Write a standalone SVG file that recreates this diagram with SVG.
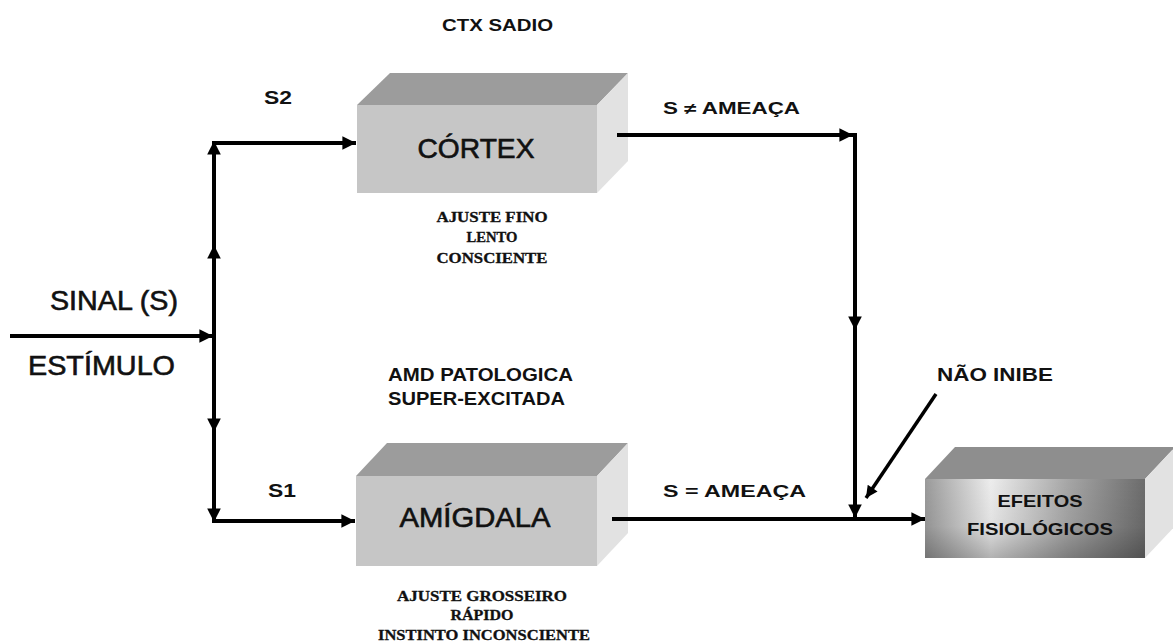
<svg xmlns="http://www.w3.org/2000/svg" width="1173" height="643" viewBox="0 0 1173 643">
  <style>
    .front { fill: #c6c6c6; }
    .top { fill: #9c9c9c; }
    .side { fill: #e2e2e2; }
    .wire { stroke: #000; stroke-width: 4; fill: none; }
    .big { font-family: "Liberation Sans", Arial, sans-serif; font-size: 27px; fill: #111; stroke: #111; stroke-width: 0.6px; }
    .lbl { font-family: "Liberation Sans", Arial, sans-serif; font-weight: bold; fill: #111; }
    .note { font-family: "Liberation Serif", "Times New Roman", serif; font-weight: bold; font-size: 14px; fill: #111; stroke: #111; stroke-width: 0.3px; }
  </style>
  <defs>
    <marker id="arrow" viewBox="0 0 10 10" refX="10" refY="5" markerWidth="4.2" markerHeight="3.4" orient="auto" markerUnits="strokeWidth">
      <path d="M0,0 L10,5 L0,10 Z" fill="#000"/>
    </marker>
    <linearGradient id="effectFace" x1="0" y1="0" x2="1" y2="0">
      <stop offset="0" stop-color="#9a9a9a"/>
      <stop offset="0.3" stop-color="#ededed"/>
      <stop offset="0.65" stop-color="#a6a6a6"/>
      <stop offset="1" stop-color="#6c6c6c"/>
    </linearGradient>
    <linearGradient id="effectShade" x1="0" y1="0" x2="0" y2="1">
      <stop offset="0" stop-color="#000" stop-opacity="0"/>
      <stop offset="0.6" stop-color="#000" stop-opacity="0.05"/>
      <stop offset="1" stop-color="#000" stop-opacity="0.25"/>
    </linearGradient>
  </defs>

  <rect width="1173" height="643" fill="#fff"/>

  <!-- top caption -->
  <text class="lbl" x="442" y="31" font-size="17" textLength="111" lengthAdjust="spacingAndGlyphs">CTX SADIO</text>

  <!-- cortex block -->
  <g id="cortex">
    <polygon class="top" points="357,105 390,73 628,73 597,105"/>
    <polygon class="side" points="597,105 628,73 628,161 597,193"/>
    <rect class="front" x="357" y="105" width="240" height="88"/>
    <text class="big" x="476" y="158" text-anchor="middle" textLength="117" lengthAdjust="spacingAndGlyphs">CÓRTEX</text>
  </g>
  <g id="cortex-notes">
    <text class="note" x="492" y="222" text-anchor="middle" textLength="111" lengthAdjust="spacingAndGlyphs">AJUSTE FINO</text>
    <text class="note" x="492" y="242" text-anchor="middle" textLength="51" lengthAdjust="spacingAndGlyphs">LENTO</text>
    <text class="note" x="492" y="263" text-anchor="middle" textLength="111" lengthAdjust="spacingAndGlyphs">CONSCIENTE</text>
  </g>

  <!-- amygdala block -->
  <g id="amigdala-caption">
    <text class="lbl" x="388" y="381" font-size="18" textLength="185" lengthAdjust="spacingAndGlyphs">AMD PATOLOGICA</text>
    <text class="lbl" x="388" y="405" font-size="18" textLength="177" lengthAdjust="spacingAndGlyphs">SUPER-EXCITADA</text>
  </g>
  <g id="amigdala">
    <polygon class="top" points="356,476 387,443 628,443 597,476"/>
    <polygon class="side" points="597,476 628,443 628,533 597,566"/>
    <rect class="front" x="356" y="476" width="241" height="90"/>
    <text class="big" x="475" y="527" font-size="28" text-anchor="middle" textLength="151" lengthAdjust="spacingAndGlyphs">AMÍGDALA</text>
  </g>
  <g id="amigdala-notes">
    <text class="note" x="482" y="601" text-anchor="middle" textLength="170" lengthAdjust="spacingAndGlyphs">AJUSTE GROSSEIRO</text>
    <text class="note" x="482" y="620" text-anchor="middle" textLength="63" lengthAdjust="spacingAndGlyphs">RÁPIDO</text>
    <text class="note" x="484" y="640" text-anchor="middle" textLength="212" lengthAdjust="spacingAndGlyphs">INSTINTO INCONSCIENTE</text>
  </g>

  <!-- physiological effects block -->
  <g id="efeitos">
    <polygon points="925,479 955,447 1175,447 1145,479" fill="#8e8e8e"/>
    <polygon class="side" points="1145,479 1175,447 1175,526 1145,558"/>
    <rect x="925" y="479" width="220" height="79" fill="url(#effectFace)"/>
    <rect x="925" y="479" width="220" height="79" fill="url(#effectShade)"/>
    <text class="lbl" x="1040" y="507" font-size="17" text-anchor="middle" textLength="85" lengthAdjust="spacingAndGlyphs">EFEITOS</text>
    <text class="lbl" x="1040" y="535" font-size="17" text-anchor="middle" textLength="146" lengthAdjust="spacingAndGlyphs">FISIOLÓGICOS</text>
  </g>

  <!-- input signal labels -->
  <g id="sinal">
    <text class="big" x="50" y="310" font-size="23" textLength="128" lengthAdjust="spacingAndGlyphs">SINAL (S)</text>
    <text class="big" x="28" y="375" font-size="23" textLength="147" lengthAdjust="spacingAndGlyphs">ESTÍMULO</text>
  </g>

  <!-- connectors -->
  <g id="connectors">
    <!-- stimulus input -->
    <line class="wire" x1="10" y1="336" x2="213" y2="336" marker-end="url(#arrow)"/>
    <!-- splitter trunk -->
    <line class="wire" x1="214" y1="336" x2="214" y2="141" marker-end="url(#arrow)"/>
    <line class="wire" x1="214" y1="336" x2="214" y2="245" marker-end="url(#arrow)"/>
    <line class="wire" x1="214" y1="336" x2="214" y2="522" marker-end="url(#arrow)"/>
    <line class="wire" x1="214" y1="336" x2="214" y2="432" marker-end="url(#arrow)"/>
    <!-- branches -->
    <line class="wire" x1="212" y1="143" x2="356" y2="143" marker-end="url(#arrow)"/>
    <line class="wire" x1="212" y1="521" x2="355" y2="521" marker-end="url(#arrow)"/>
    <!-- cortex output -->
    <line class="wire" x1="617" y1="135" x2="853" y2="135" marker-end="url(#arrow)"/>
    <line class="wire" x1="855" y1="133" x2="855" y2="518" marker-end="url(#arrow)"/>
    <line class="wire" x1="855" y1="133" x2="855" y2="330" marker-end="url(#arrow)"/>
    <!-- amygdala output -->
    <line class="wire" x1="612" y1="519" x2="925" y2="519" marker-end="url(#arrow)"/>
    <!-- no inhibition -->
    <line x1="936" y1="394" x2="866" y2="498" stroke="#000" stroke-width="3.5" marker-end="url(#arrow)"/>
  </g>

  <!-- connector labels -->
  <g id="connector-labels">
    <text class="lbl" x="264" y="104" font-size="18" textLength="28" lengthAdjust="spacingAndGlyphs">S2</text>
    <text class="lbl" x="268" y="497" font-size="18" textLength="28" lengthAdjust="spacingAndGlyphs">S1</text>
    <text class="lbl" x="663" y="114" font-size="16" textLength="137" lengthAdjust="spacingAndGlyphs">S ≠ AMEAÇA</text>
    <text class="lbl" x="663" y="497" font-size="17" textLength="143" lengthAdjust="spacingAndGlyphs">S = AMEAÇA</text>
    <text class="lbl" x="937" y="381" font-size="18" textLength="116" lengthAdjust="spacingAndGlyphs">NÃO INIBE</text>
  </g>
</svg>
